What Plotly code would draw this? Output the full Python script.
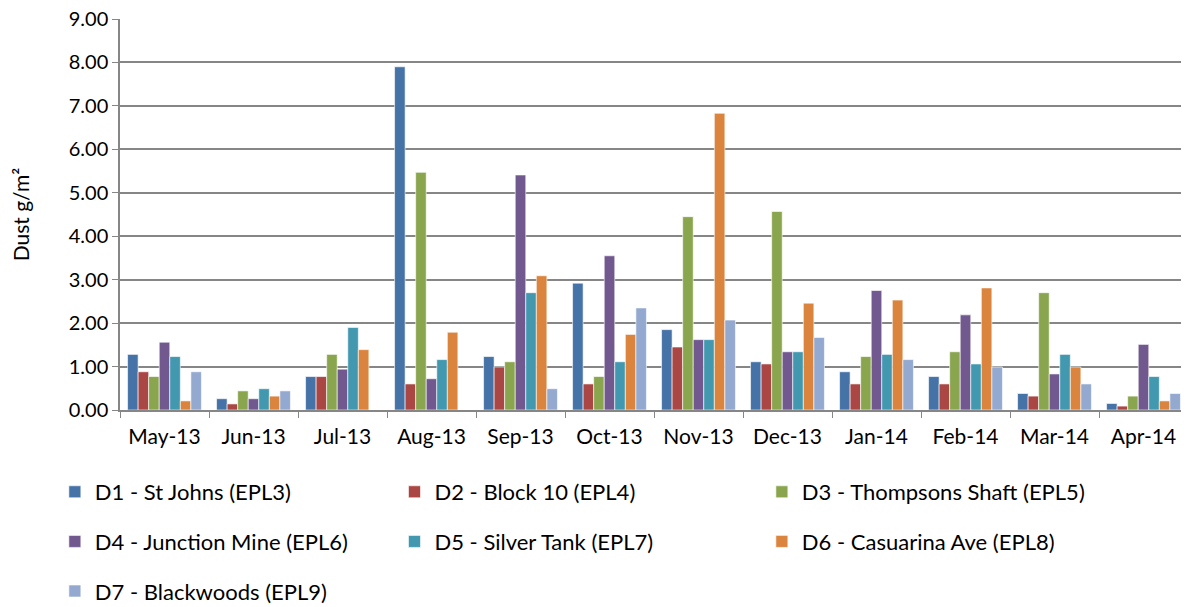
import plotly.graph_objects as go

months = ["May-13", "Jun-13", "Jul-13", "Aug-13", "Sep-13", "Oct-13",
          "Nov-13", "Dec-13", "Jan-14", "Feb-14", "Mar-14", "Apr-14"]

d1_st_johns = [1.28, 0.26, 0.77, 7.90, 1.23, 2.92, 1.85, 1.11, 0.88, 0.77, 0.38, 0.15]
d2_block_10 = [0.88, 0.14, 0.77, 0.60, 0.99, 0.60, 1.45, 1.06, 0.60, 0.60, 0.32, 0.09]
d3_thompsons = [0.77, 0.44, 1.28, 5.47, 1.11, 0.77, 4.45, 4.57, 1.23, 1.34, 2.70, 0.32]
d4_junction = [1.56, 0.26, 0.94, 0.72, 5.41, 3.55, 1.62, 1.34, 2.75, 2.19, 0.83, 1.51]
d5_silver_tank = [1.23, 0.49, 1.90, 1.16, 2.70, 1.11, 1.62, 1.34, 1.28, 1.06, 1.28, 0.77]
d6_casuarina = [0.21, 0.32, 1.39, 1.79, 3.09, 1.74, 6.83, 2.46, 2.53, 2.81, 0.99, 0.21]
d7_blackwoods = [0.88, 0.44, 0, 0, 0.49, 2.35, 2.07, 1.67, 1.16, 0.99, 0.60, 0.38]

series_names = [
    "D1 - St Johns (EPL3)", "D2 - Block 10 (EPL4)", "D3 - Thompsons Shaft (EPL5)",
    "D4 - Junction Mine (EPL6)", "D5 - Silver Tank (EPL7)", "D6 - Casuarina Ave (EPL8)",
    "D7 - Blackwoods (EPL9)",
]
series_values = [d1_st_johns, d2_block_10, d3_thompsons, d4_junction,
                 d5_silver_tank, d6_casuarina, d7_blackwoods]

colors = ["#4572A7", "#AA4643", "#89A54E", "#71588F", "#4198AF", "#DB843D", "#93A9CF"]
# legend column for each series (three columns like the original)
legend_cols = ["legend", "legend2", "legend3", "legend", "legend2", "legend3", "legend"]

FONT = "Lato, 'Open Sans', sans-serif"

fig = go.Figure()
for i, (name, vals) in enumerate(zip(series_names, series_values)):
    fig.add_trace(go.Bar(
        x=months, y=vals, name=name,
        marker=dict(color=colors[i], line=dict(color="rgba(255,255,255,0.6)", width=1)),
        legend=legend_cols[i], legendgroup=name,
    ))

legend_style = dict(
    orientation="v", yanchor="top", y=-0.156, tracegroupgap=18,
    font=dict(family=FONT, size=22, color="#000000"),
    bgcolor="rgba(0,0,0,0)", itemwidth=30,
)

# page body has an 8px margin, so the figure is a bit smaller than the window
fig.update_layout(
    width=1181, height=599,
    margin=dict(l=112, r=1, t=11, b=197, autoexpand=False),
    paper_bgcolor="white", plot_bgcolor="white",
    font=dict(family=FONT, size=21, color="#000000"),
    barmode="group", bargap=0.17, bargroupgap=0,
    legend=dict(x=-0.061, **legend_style),
    legend2=dict(x=0.257, **legend_style),
    legend3=dict(x=0.601, **legend_style),
    xaxis=dict(
        type="category", tickson="boundaries", ticks="outside", ticklen=6,
        tickcolor="#868686", showline=True, linecolor="#868686", linewidth=1.5,
        showgrid=False, tickfont=dict(size=21), tickangle=0, ticklabelstandoff=7,
    ),
    yaxis=dict(
        range=[0, 9], dtick=1, tickformat=".2f", ticks="outside", ticklen=6,
        tickcolor="#868686", showline=True, linecolor="#868686", linewidth=1.5,
        gridcolor="#868686", gridwidth=1.5, zeroline=False,
        tickfont=dict(size=20), ticklabeloverflow="allow",
        title=dict(text="Dust g/m²", font=dict(size=21), standoff=34),
    ),
)

fig.write_html("out.html")
